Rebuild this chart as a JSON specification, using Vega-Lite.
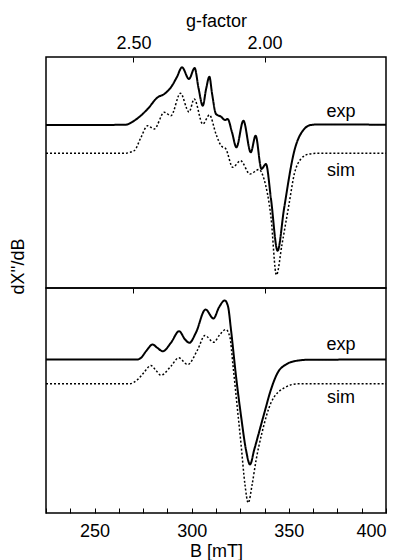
{
  "$schema": "https://vega.github.io/schema/vega-lite/v6.json",
  "padding": {"left": 8, "top": 11, "right": 5, "bottom": 0},
  "spacing": 0,
  "bounds": "flush",
  "config": {
    "font": "Liberation Sans",
    "view": {"stroke": "black", "strokeWidth": 1.5},
    "axis": {"grid": false, "domain": false, "tickColor": "black", "labelColor": "black", "titleColor": "black", "labelFontSize": 18, "titleFontSize": 18, "titleFontWeight": "normal", "tickWidth": 1},
    "text": {"fontSize": 18, "font": "Liberation Sans"}
  },
  "datasets": {
    "top": [
      {"curve": "exp", "B": 225, "v": 163},
      {"curve": "exp", "B": 250, "v": 163},
      {"curve": "exp", "B": 266, "v": 163.3},
      {"curve": "exp", "B": 270.4, "v": 167.3},
      {"curve": "exp", "B": 277.3, "v": 179},
      {"curve": "exp", "B": 282.5, "v": 190.7},
      {"curve": "exp", "B": 285.9, "v": 194},
      {"curve": "exp", "B": 289.3, "v": 200.7},
      {"curve": "exp", "B": 292.4, "v": 211},
      {"curve": "exp", "B": 295.0, "v": 220.7},
      {"curve": "exp", "B": 298.6, "v": 209},
      {"curve": "exp", "B": 301.5, "v": 220},
      {"curve": "exp", "B": 303.5, "v": 200},
      {"curve": "exp", "B": 305.7, "v": 182.3},
      {"curve": "exp", "B": 307.4, "v": 199},
      {"curve": "exp", "B": 309.1, "v": 211.3},
      {"curve": "exp", "B": 310.5, "v": 194},
      {"curve": "exp", "B": 312.5, "v": 174},
      {"curve": "exp", "B": 315.1, "v": 171.3},
      {"curve": "exp", "B": 317.1, "v": 168},
      {"curve": "exp", "B": 318.5, "v": 169},
      {"curve": "exp", "B": 320.7, "v": 156},
      {"curve": "exp", "B": 323.0, "v": 140.7},
      {"curve": "exp", "B": 326.6, "v": 167.3},
      {"curve": "exp", "B": 330.4, "v": 135.7},
      {"curve": "exp", "B": 332.9, "v": 152.3},
      {"curve": "exp", "B": 335.9, "v": 119},
      {"curve": "exp", "B": 338.2, "v": 124},
      {"curve": "exp", "B": 340.8, "v": 89},
      {"curve": "exp", "B": 344.2, "v": 37.3},
      {"curve": "exp", "B": 347.5, "v": 79},
      {"curve": "exp", "B": 352.8, "v": 137},
      {"curve": "exp", "B": 357.9, "v": 159},
      {"curve": "exp", "B": 361.4, "v": 163},
      {"curve": "exp", "B": 364.8, "v": 163.5},
      {"curve": "exp", "B": 400, "v": 163.3},
      {"curve": "sim", "B": 225, "v": 134.7},
      {"curve": "sim", "B": 265, "v": 134.7},
      {"curve": "sim", "B": 270.4, "v": 137.3},
      {"curve": "sim", "B": 273.9, "v": 150.7},
      {"curve": "sim", "B": 277.3, "v": 162.3},
      {"curve": "sim", "B": 280.7, "v": 159},
      {"curve": "sim", "B": 285.9, "v": 175.7},
      {"curve": "sim", "B": 289.3, "v": 172.3},
      {"curve": "sim", "B": 294.2, "v": 194.7},
      {"curve": "sim", "B": 298.6, "v": 176},
      {"curve": "sim", "B": 301.3, "v": 189},
      {"curve": "sim", "B": 305.7, "v": 164},
      {"curve": "sim", "B": 309.1, "v": 173},
      {"curve": "sim", "B": 312.5, "v": 154},
      {"curve": "sim", "B": 315.1, "v": 142.3},
      {"curve": "sim", "B": 317.6, "v": 139},
      {"curve": "sim", "B": 321.1, "v": 120.7},
      {"curve": "sim", "B": 325.1, "v": 127.3},
      {"curve": "sim", "B": 330.0, "v": 114},
      {"curve": "sim", "B": 334.6, "v": 118.5},
      {"curve": "sim", "B": 337.2, "v": 109},
      {"curve": "sim", "B": 340.8, "v": 70.7},
      {"curve": "sim", "B": 343.6, "v": 13},
      {"curve": "sim", "B": 346.5, "v": 44},
      {"curve": "sim", "B": 350.1, "v": 84},
      {"curve": "sim", "B": 352.8, "v": 114},
      {"curve": "sim", "B": 356.2, "v": 129},
      {"curve": "sim", "B": 360.4, "v": 134},
      {"curve": "sim", "B": 364.8, "v": 134.7},
      {"curve": "sim", "B": 400, "v": 134.7}
    ],
    "bottom": [
      {"curve": "exp", "B": 225, "v": 153.5},
      {"curve": "exp", "B": 272, "v": 153.5},
      {"curve": "exp", "B": 273.9, "v": 155.2},
      {"curve": "exp", "B": 276.5, "v": 161.8},
      {"curve": "exp", "B": 279.9, "v": 168.5},
      {"curve": "exp", "B": 282.1, "v": 165.5},
      {"curve": "exp", "B": 285.1, "v": 161.8},
      {"curve": "exp", "B": 289.3, "v": 170.2},
      {"curve": "exp", "B": 293.5, "v": 181.8},
      {"curve": "exp", "B": 296.6, "v": 173.5},
      {"curve": "exp", "B": 298.8, "v": 170.2},
      {"curve": "exp", "B": 302.2, "v": 180.5},
      {"curve": "exp", "B": 307.1, "v": 203.5},
      {"curve": "exp", "B": 311.2, "v": 194.5},
      {"curve": "exp", "B": 314.0, "v": 205.5},
      {"curve": "exp", "B": 317.0, "v": 212.5},
      {"curve": "exp", "B": 318.7, "v": 206.5},
      {"curve": "exp", "B": 320.2, "v": 183.5},
      {"curve": "exp", "B": 322.8, "v": 136.8},
      {"curve": "exp", "B": 325.4, "v": 96.8},
      {"curve": "exp", "B": 327.9, "v": 63.5},
      {"curve": "exp", "B": 330.0, "v": 48.5},
      {"curve": "exp", "B": 332.2, "v": 63.5},
      {"curve": "exp", "B": 337.4, "v": 100.2},
      {"curve": "exp", "B": 340.8, "v": 123.5},
      {"curve": "exp", "B": 344.3, "v": 140.5},
      {"curve": "exp", "B": 348.5, "v": 148.5},
      {"curve": "exp", "B": 352.8, "v": 151.8},
      {"curve": "exp", "B": 359.7, "v": 153.2},
      {"curve": "exp", "B": 400, "v": 153.5},
      {"curve": "sim", "B": 225, "v": 129.2},
      {"curve": "sim", "B": 268, "v": 129.2},
      {"curve": "sim", "B": 272.2, "v": 133.5},
      {"curve": "sim", "B": 275.4, "v": 140.5},
      {"curve": "sim", "B": 279.0, "v": 147.5},
      {"curve": "sim", "B": 281.6, "v": 142.5},
      {"curve": "sim", "B": 284.2, "v": 137.8},
      {"curve": "sim", "B": 289.3, "v": 146.8},
      {"curve": "sim", "B": 293.3, "v": 155.2},
      {"curve": "sim", "B": 297.9, "v": 148.5},
      {"curve": "sim", "B": 303.1, "v": 163.5},
      {"curve": "sim", "B": 306.8, "v": 177.5},
      {"curve": "sim", "B": 311.3, "v": 170.8},
      {"curve": "sim", "B": 314.5, "v": 178.5},
      {"curve": "sim", "B": 317.6, "v": 183.5},
      {"curve": "sim", "B": 319.7, "v": 175.5},
      {"curve": "sim", "B": 321.2, "v": 148.5},
      {"curve": "sim", "B": 323.3, "v": 108.5},
      {"curve": "sim", "B": 325.4, "v": 68.5},
      {"curve": "sim", "B": 327.4, "v": 28.5},
      {"curve": "sim", "B": 329.1, "v": 10.2},
      {"curve": "sim", "B": 331.1, "v": 28.5},
      {"curve": "sim", "B": 333.1, "v": 52.5},
      {"curve": "sim", "B": 336.2, "v": 80.5},
      {"curve": "sim", "B": 340.8, "v": 110.2},
      {"curve": "sim", "B": 347.7, "v": 125.2},
      {"curve": "sim", "B": 354.5, "v": 129.2},
      {"curve": "sim", "B": 400, "v": 129.2}
    ]
  },
  "vconcat": [
    {
      "width": 340,
      "height": 231,
      "resolve": {"axis": {"x": "independent", "y": "independent"}},
      "layer": [
        {
          "data": {"name": "top"},
          "mark": {"type": "line", "interpolate": "monotone", "color": "black"},
          "encoding": {
            "x": {"field": "B", "type": "quantitative", "scale": {"domain": [225, 400], "nice": false, "zero": false},
              "axis": {"orient": "top", "values": [270, 337.5], "labelExpr": "format(675/datum.value, '.2f')", "title": "g-factor", "tickSize": -5, "labelPadding": 10, "titlePadding": 4}},
            "y": {"field": "v", "type": "quantitative", "scale": {"domain": [0, 231], "nice": false, "zero": false},
              "axis": {"title": "dX''/dB", "labels": false, "ticks": false, "titleX": -19, "titleY": 209}},
            "strokeDash": {"field": "curve", "type": "nominal", "scale": {"domain": ["exp", "sim"], "range": [[1, 0], [2, 2]]}, "legend": null},
            "strokeWidth": {"field": "curve", "type": "nominal", "scale": {"domain": ["exp", "sim"], "range": [2, 1.5]}, "legend": null}
          }
        },
        {
          "data": {"values": [{}]},
          "mark": {"type": "text", "align": "center", "baseline": "middle", "color": "black"},
          "encoding": {"x": {"datum": 376.8, "type": "quantitative", "axis": null}, "y": {"datum": 176, "type": "quantitative", "axis": null}, "text": {"value": "exp"}}
        },
        {
          "data": {"values": [{}]},
          "mark": {"type": "text", "align": "center", "baseline": "middle", "color": "black"},
          "encoding": {"x": {"datum": 376.8, "type": "quantitative", "axis": null}, "y": {"datum": 117, "type": "quantitative", "axis": null}, "text": {"value": "sim"}}
        }
      ]
    },
    {
      "width": 340,
      "height": 225,
      "resolve": {"axis": {"x": "independent", "y": "independent"}},
      "layer": [
        {
          "data": {"name": "bottom"},
          "mark": {"type": "line", "interpolate": "monotone", "color": "black"},
          "encoding": {
            "x": {"field": "B", "type": "quantitative", "scale": {"domain": [225, 400], "nice": false, "zero": false},
              "axis": {"orient": "bottom", "values": [225, 237.5, 250, 262.5, 275, 287.5, 300, 312.5, 325, 337.5, 350, 362.5, 375, 387.5, 400], "labelExpr": "datum.value % 50 === 0 && datum.value > 225 ? datum.label : ''", "labelFlush": true, "title": "B [mT]", "tickSize": -5, "labelPadding": 14.5, "titlePadding": 2}},
            "y": {"field": "v", "type": "quantitative", "scale": {"domain": [0, 225], "nice": false, "zero": false},
              "axis": {"title": "dX''/dB", "titleOpacity": 0, "labels": false, "ticks": false, "titleX": -19}},
            "strokeDash": {"field": "curve", "type": "nominal", "scale": {"domain": ["exp", "sim"], "range": [[1, 0], [2, 2]]}, "legend": null},
            "strokeWidth": {"field": "curve", "type": "nominal", "scale": {"domain": ["exp", "sim"], "range": [2, 1.5]}, "legend": null}
          }
        },
        {
          "data": {"values": [{}]},
          "mark": {"type": "text", "align": "center", "baseline": "middle", "color": "black"},
          "encoding": {"x": {"datum": 376.8, "type": "quantitative",
              "axis": {"orient": "top", "values": [270, 337.5], "labels": false, "title": null, "tickSize": -5}},
            "y": {"datum": 168.5, "type": "quantitative", "axis": null}, "text": {"value": "exp"}}
        },
        {
          "data": {"values": [{}]},
          "mark": {"type": "text", "align": "center", "baseline": "middle", "color": "black"},
          "encoding": {"x": {"datum": 376.8, "type": "quantitative", "axis": null}, "y": {"datum": 115, "type": "quantitative", "axis": null}, "text": {"value": "sim"}}
        }
      ]
    }
  ]
}
